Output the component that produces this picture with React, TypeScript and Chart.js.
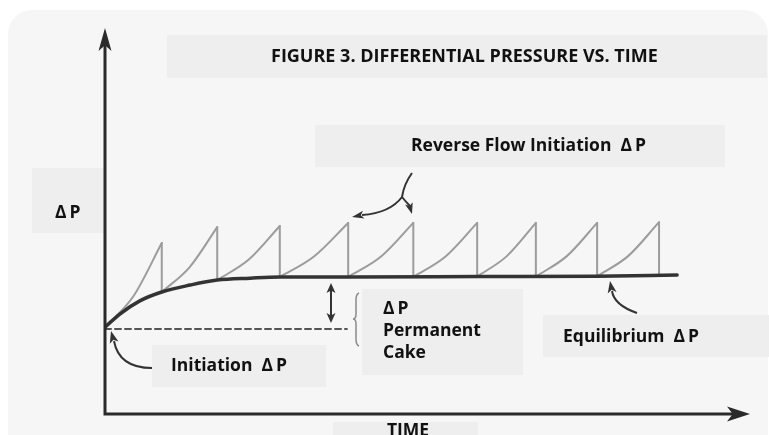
import React, { useEffect, useRef } from "react";
import { Chart, registerables } from "chart.js";

Chart.register(...registerables);

// Equilibrium (baseline) differential pressure curve
const equilibriumTime = [0, 2.3, 5.4, 8.8, 13.2, 17.4, 22.5, 27.1, 37.7, 57.7, 76.3, 88.7];
const equilibriumDP = [22.5, 25.9, 29.3, 31.6, 33.4, 34.7, 35.2, 35.5, 35.5, 35.6, 35.7, 36.0];

// Filtration cycles (sawtooth): start time, mid time, peak time (= reverse-flow time)
const cycleStartTime = [0, 8.8, 17.4, 27.1, 37.7, 47.8, 57.7, 66.8, 76.3];
const cycleMidTime = [4.4, 13.1, 22.3, 32.4, 42.8, 52.8, 62.3, 71.6, 81.1];
const cyclePeakTime = [8.8, 17.4, 27.1, 37.7, 47.8, 57.7, 66.8, 76.3, 85.9];
const cycleStartDP = [22.5, 31.6, 34.7, 35.5, 35.5, 35.5, 35.6, 35.6, 35.7];
const cycleMidDP = [30.5, 38.0, 40.0, 40.8, 40.8, 40.8, 40.9, 40.9, 40.9];
const cyclePeakDP = [44.3, 48.4, 48.7, 49.5, 49.5, 49.5, 49.5, 49.5, 49.7];
const cycleEndDP = [31.6, 34.7, 35.5, 35.5, 35.5, 35.6, 35.6, 35.7, 35.8];

// Initiation ΔP reference (dashed)
const initiationTime = [0, 37.5];
const initiationDP = [22.0, 22.0];

const TITLE = "FIGURE 3. DIFFERENTIAL PRESSURE VS. TIME";
const FONT = '"Open Sans", "Noto Sans", sans-serif';

function head(ctx: CanvasRenderingContext2D, tx: number, ty: number, fx: number, fy: number, len: number, wid: number) {
  const a = Math.atan2(ty - fy, tx - fx);
  ctx.beginPath();
  ctx.moveTo(tx, ty);
  ctx.lineTo(tx - len * Math.cos(a) + (wid / 2) * Math.sin(a), ty - len * Math.sin(a) - (wid / 2) * Math.cos(a));
  ctx.lineTo(tx - len * 0.75 * Math.cos(a), ty - len * 0.75 * Math.sin(a));
  ctx.lineTo(tx - len * Math.cos(a) - (wid / 2) * Math.sin(a), ty - len * Math.sin(a) + (wid / 2) * Math.cos(a));
  ctx.closePath();
  ctx.fill();
}

const decorPlugin = {
  id: "decor",
  beforeDraw(chart: any) {
    const ctx: CanvasRenderingContext2D = chart.ctx;
    ctx.save();
    ctx.fillStyle = "#ffffff";
    ctx.fillRect(0, 0, chart.width, chart.height);
    ctx.fillStyle = "#f6f6f6";
    ctx.beginPath();
    (ctx as any).roundRect(8, 10, 760, 460, 24);
    ctx.fill();
    ctx.fillStyle = "#eeeeee";
    const boxes = [
      [167, 35, 600, 43],
      [315, 125, 410, 42],
      [32, 168, 73, 65],
      [152, 345, 174, 42],
      [362, 289, 161, 86],
      [543, 315, 226, 42],
      [333, 422, 145, 13],
    ];
    boxes.forEach(([x, y, w, h]) => ctx.fillRect(x, y, w, h));
    ctx.restore();
  },
  afterDatasetsDraw(chart: any) {
    const ctx: CanvasRenderingContext2D = chart.ctx;
    const xs = chart.scales.x;
    const ys = chart.scales.y;
    const x0 = xs.getPixelForValue(0);
    const x1 = xs.getPixelForValue(100);
    const y0 = ys.getPixelForValue(0);
    const y1 = ys.getPixelForValue(100);
    ctx.save();
    // axes
    ctx.strokeStyle = "#2a2a2a";
    ctx.fillStyle = "#2a2a2a";
    ctx.lineWidth = 3;
    ctx.lineCap = "butt";
    ctx.beginPath();
    ctx.moveTo(x0, y0 + 1.5);
    ctx.lineTo(x0, y1 + 14);
    ctx.moveTo(x0 - 1.5, y0);
    ctx.lineTo(x1 - 14, y0);
    ctx.stroke();
    head(ctx, x0, y1, x0, y1 + 10, 23, 13);
    head(ctx, x1, y0, x1 - 10, y0, 23, 15);

    // annotation arrows
    ctx.strokeStyle = "#333";
    ctx.fillStyle = "#333";
    ctx.lineWidth = 2;
    // reverse flow arrow
    ctx.beginPath();
    ctx.moveTo(412, 173);
    ctx.quadraticCurveTo(404, 184, 402, 197);
    ctx.quadraticCurveTo(406, 202, 410, 206);
    ctx.stroke();
    head(ctx, 412, 214, 409, 204, 11, 8);
    ctx.beginPath();
    ctx.moveTo(402, 197);
    ctx.quadraticCurveTo(390, 213, 362, 215);
    ctx.stroke();
    head(ctx, 352, 217, 362, 215, 12, 8);
    // initiation arrow
    ctx.beginPath();
    ctx.moveTo(152, 368);
    ctx.quadraticCurveTo(119, 368, 114, 341);
    ctx.stroke();
    head(ctx, 111, 331, 114, 342, 12, 9);
    // equilibrium arrow
    ctx.beginPath();
    ctx.moveTo(637, 313);
    ctx.quadraticCurveTo(614, 305, 612, 291);
    ctx.stroke();
    head(ctx, 610, 281, 612, 292, 12, 9);
    // double arrow
    ctx.beginPath();
    ctx.moveTo(331, 290);
    ctx.lineTo(331, 316);
    ctx.stroke();
    head(ctx, 331, 283, 331, 290, 10, 9);
    head(ctx, 331, 323, 331, 316, 10, 9);
    // brace
    ctx.strokeStyle = "#8a8a8a";
    ctx.lineWidth = 1.5;
    ctx.beginPath();
    ctx.moveTo(359, 293);
    ctx.quadraticCurveTo(356, 294, 356, 300);
    ctx.lineTo(356, 314);
    ctx.quadraticCurveTo(356, 319, 353, 319);
    ctx.quadraticCurveTo(356, 319, 356, 324);
    ctx.lineTo(356, 339);
    ctx.quadraticCurveTo(356, 345, 359, 346);
    ctx.stroke();

    // texts
    ctx.fillStyle = "#111";
    ctx.textBaseline = "middle";
    ctx.textAlign = "left";
    ctx.font = `bold 18px ${FONT}`;
    ctx.fillText(TITLE, 271, 57);
    ctx.font = `bold 17.5px ${FONT}`;
    ctx.fillText("Reverse Flow Initiation  \u0394\u2009P", 411, 146);
    ctx.fillText("\u0394\u2009P", 55, 213);
    ctx.fillText("Initiation  \u0394\u2009P", 171, 366);
    ctx.fillText("\u0394\u2009P", 383, 309);
    ctx.fillText("Permanent", 383, 331);
    ctx.fillText("Cake", 383, 353);
    ctx.fillText("Equilibrium  \u0394\u2009P", 563, 337);
    ctx.textAlign = "center";
    ctx.textBaseline = "alphabetic";
    ctx.fillText("TIME", 408, 436);
    ctx.restore();
  },
};

export default function App() {
  const ref = useRef<HTMLCanvasElement | null>(null);
  useEffect(() => {
    if (!ref.current) return;
    const cycleDatasets = cycleStartTime.map((t, i) => ({
      label: `cycle${i}`,
      data: [
        { x: t, y: cycleStartDP[i] },
        { x: cycleMidTime[i], y: cycleMidDP[i] },
        { x: cyclePeakTime[i], y: cyclePeakDP[i] },
      ],
      borderColor: "#9c9c9c",
      borderWidth: 2,
      pointRadius: 0,
      cubicInterpolationMode: "monotone" as const,
      fill: false,
      order: 3,
    }));
    const dropData: any[] = [];
    cyclePeakTime.forEach((t, i) => {
      dropData.push({ x: t, y: cyclePeakDP[i] });
      dropData.push({ x: t, y: cycleEndDP[i] });
      dropData.push({ x: t, y: null });
    });
    const chart = new Chart(ref.current, {
      type: "line",
      data: {
        datasets: [
          {
            label: "Equilibrium ΔP",
            data: equilibriumTime.map((t, i) => ({ x: t, y: equilibriumDP[i] })),
            borderColor: "#333333",
            borderWidth: 3.5,
            pointRadius: 0,
            cubicInterpolationMode: "monotone",
            fill: false,
            order: 1,
          },
          {
            label: "Initiation ΔP",
            data: initiationTime.map((t, i) => ({ x: t, y: initiationDP[i] })),
            borderColor: "#555555",
            borderWidth: 2,
            borderDash: [6, 4],
            pointRadius: 0,
            fill: false,
            order: 2,
          },
          ...cycleDatasets,
          {
            label: "Reverse flow",
            data: dropData,
            borderColor: "#9c9c9c",
            borderWidth: 2,
            pointRadius: 0,
            spanGaps: false,
            fill: false,
            order: 3,
          },
        ] as any,
      },
      options: {
        animation: false,
        responsive: false,
        maintainAspectRatio: false,
        layout: { padding: { left: 105, right: 19, top: 28, bottom: 21 } },
        scales: {
          x: { type: "linear", min: 0, max: 100, display: false },
          y: { type: "linear", min: 0, max: 100, display: false },
        },
        plugins: { legend: { display: false }, tooltip: { enabled: false }, title: { display: false } },
        elements: { line: { borderCapStyle: "round" } },
      },
      plugins: [decorPlugin],
    });
    return () => chart.destroy();
  }, []);
  return (
    <div style={{ position: "absolute", left: 0, top: 0, width: 769, height: 435, background: "#fff" }}>
      <canvas ref={ref} width={769} height={435} style={{ width: 769, height: 435, display: "block" }} />
    </div>
  );
}
